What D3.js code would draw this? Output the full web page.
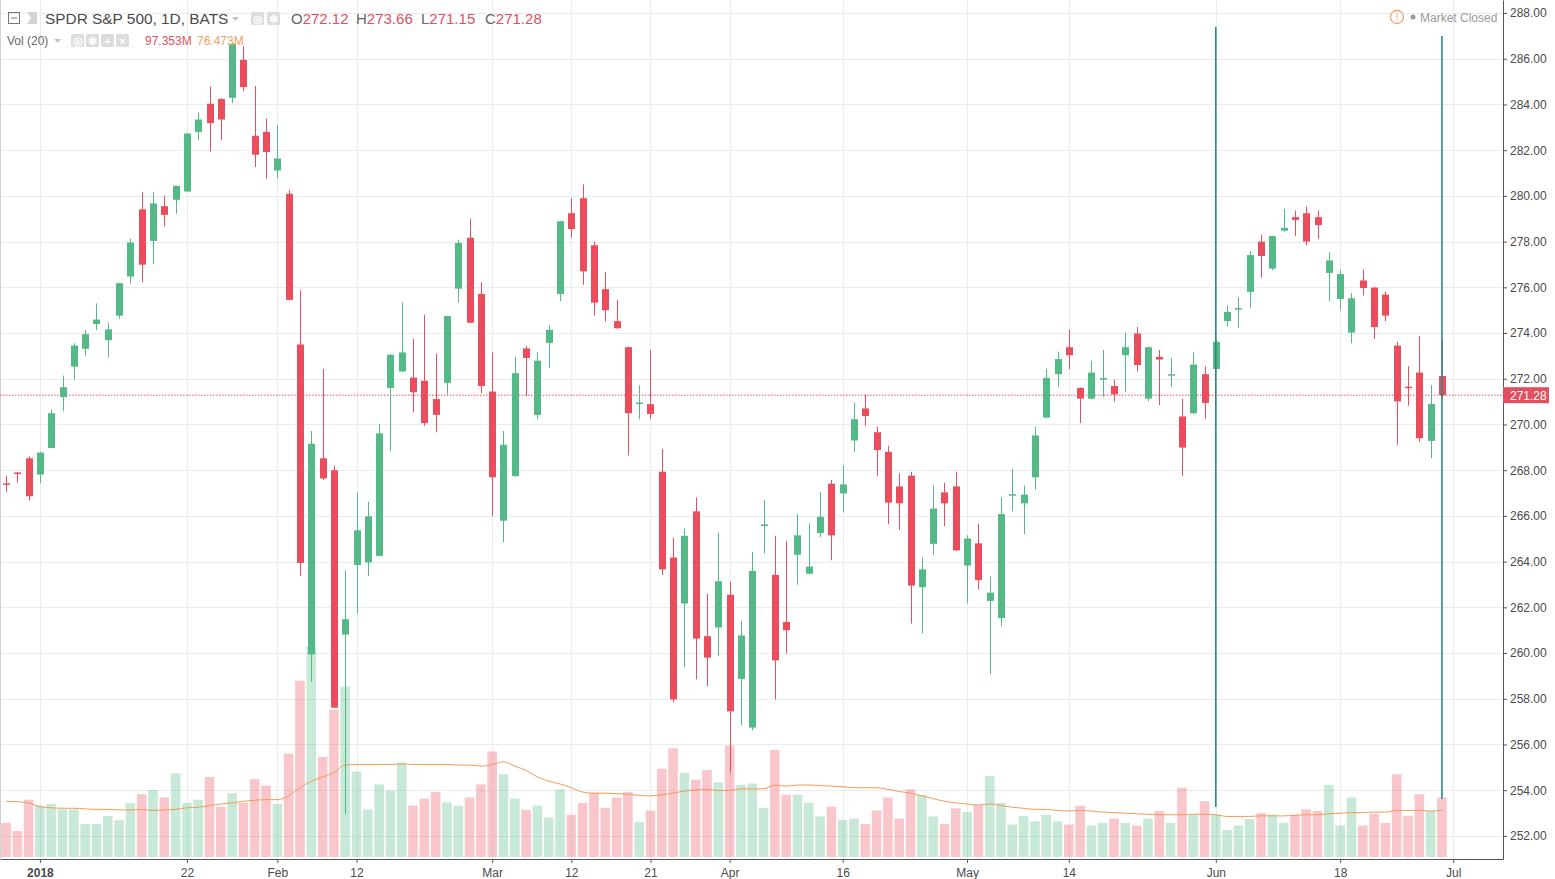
<!DOCTYPE html>
<html>
<head>
<meta charset="utf-8">
<script src="https://cdn.jsdelivr.net/npm/d3@7"></script>
<style>
  body { margin: 0; background: #fff; }
  svg { display: block; font-family: "Liberation Sans", Arial, sans-serif; }
</style>
</head>
<body>
<svg id="chart" width="1555" height="879"></svg>
<script>
// daily bars, Dec 27 2017 .. Jun 29 2018
const dates = ["2017-12-27","2017-12-28","2017-12-29",
  "2018-01-02","2018-01-03","2018-01-04","2018-01-05","2018-01-08","2018-01-09","2018-01-10","2018-01-11","2018-01-12",
  "2018-01-16","2018-01-17","2018-01-18","2018-01-19","2018-01-22","2018-01-23","2018-01-24","2018-01-25","2018-01-26",
  "2018-01-29","2018-01-30","2018-01-31","2018-02-01","2018-02-02","2018-02-05","2018-02-06","2018-02-07","2018-02-08",
  "2018-02-09","2018-02-12","2018-02-13","2018-02-14","2018-02-15","2018-02-16","2018-02-20","2018-02-21","2018-02-22",
  "2018-02-23","2018-02-26","2018-02-27","2018-02-28","2018-03-01","2018-03-02","2018-03-05","2018-03-06","2018-03-07",
  "2018-03-08","2018-03-09","2018-03-12","2018-03-13","2018-03-14","2018-03-15","2018-03-16","2018-03-19","2018-03-20",
  "2018-03-21","2018-03-22","2018-03-23","2018-03-26","2018-03-27","2018-03-28","2018-03-29","2018-04-02","2018-04-03",
  "2018-04-04","2018-04-05","2018-04-06","2018-04-09","2018-04-10","2018-04-11","2018-04-12","2018-04-13","2018-04-16",
  "2018-04-17","2018-04-18","2018-04-19","2018-04-20","2018-04-23","2018-04-24","2018-04-25","2018-04-26","2018-04-27",
  "2018-04-30","2018-05-01","2018-05-02","2018-05-03","2018-05-04","2018-05-07","2018-05-08","2018-05-09","2018-05-10",
  "2018-05-11","2018-05-14","2018-05-15","2018-05-16","2018-05-17","2018-05-18","2018-05-21","2018-05-22","2018-05-23",
  "2018-05-24","2018-05-25","2018-05-29","2018-05-30","2018-05-31","2018-06-01","2018-06-04","2018-06-05","2018-06-06",
  "2018-06-07","2018-06-08","2018-06-11","2018-06-12","2018-06-13","2018-06-14","2018-06-15","2018-06-18","2018-06-19",
  "2018-06-20","2018-06-21","2018-06-22","2018-06-25","2018-06-26","2018-06-27","2018-06-28","2018-06-29"];

const opens = [267.42,267.90,268.52,
  267.81,268.97,271.20,272.53,273.31,274.40,273.69,274.76,276.47,
  279.41,278.03,279.55,279.83,280.19,282.80,284.03,284.24,284.29,
  285.95,282.63,282.80,281.11,280.09,273.50,259.94,268.52,268.00,
  260.81,263.85,263.97,264.25,271.60,272.32,272.05,271.91,271.11,
  271.82,275.94,278.17,275.71,271.44,265.79,267.74,273.33,270.42,
  273.57,275.71,279.24,279.90,277.84,275.92,274.52,273.38,270.92,
  270.89,267.93,264.18,262.17,266.20,260.74,261.12,262.55,258.87,
  256.74,265.56,263.42,261.36,264.30,263.47,265.25,267.41,266.98,
  269.30,270.70,269.66,268.80,267.29,267.76,262.88,264.78,267.03,
  267.29,263.83,264.80,262.28,261.53,266.93,266.55,267.69,270.30,
  272.20,273.38,271.60,271.13,271.96,271.68,273.03,273.98,271.13,
  272.96,272.18,270.35,270.49,272.20,272.43,274.52,275.07,275.80,
  278.00,276.82,278.48,279.07,279.24,279.07,276.63,275.49,274.02,
  276.30,275.99,275.68,273.45,271.65,272.27,269.28,272.12];

const highs = [267.76,267.92,268.60,
  268.81,270.65,272.14,273.55,274.14,275.30,274.45,276.20,278.13,
  280.16,280.16,280.02,280.45,282.75,283.65,284.79,284.27,286.70,
  286.55,284.81,283.39,283.10,280.26,275.87,269.71,272.43,268.21,
  263.61,267.03,266.62,270.02,273.07,275.35,273.74,274.81,273.10,
  274.76,278.08,279.00,276.23,273.15,269.71,272.96,273.43,273.15,
  274.33,278.91,279.90,280.50,278.00,276.66,275.45,273.40,271.72,
  273.26,268.92,265.04,265.44,266.81,262.59,265.27,263.11,261.41,
  264.42,266.70,265.13,264.89,266.08,265.67,267.05,267.57,268.21,
  270.94,271.30,269.90,269.07,267.86,267.93,264.18,267.33,267.45,
  267.93,265.15,265.67,263.35,266.81,268.05,267.33,269.90,272.43,
  273.19,274.14,271.62,272.79,273.26,271.96,274.02,274.26,273.40,
  273.26,272.91,271.13,273.15,272.55,273.70,275.20,275.56,277.58,
  278.31,278.26,279.43,279.36,279.55,279.36,277.53,276.77,275.75,
  276.77,276.01,275.82,273.62,272.55,273.86,271.72,273.66];

const lows = [267.06,267.45,266.67,
  267.43,268.96,270.58,271.97,273.02,274.14,272.93,274.62,276.16,
  276.23,277.01,278.67,279.22,280.17,282.44,281.94,282.44,284.06,
  284.57,281.26,280.76,280.76,275.43,263.37,258.75,267.57,257.59,
  252.94,261.72,263.37,264.23,268.83,272.30,270.54,269.94,269.66,
  271.30,275.33,274.43,271.37,265.98,264.85,267.72,271.25,270.23,
  272.48,275.40,278.17,276.11,274.76,274.50,274.19,268.64,270.23,
  270.23,263.42,257.85,259.39,258.85,258.56,259.87,254.77,256.85,
  256.62,264.37,257.97,259.98,262.99,263.45,265.08,264.06,266.15,
  268.80,269.94,267.76,265.63,265.39,261.29,260.86,264.30,265.56,
  264.47,262.17,262.78,259.08,261.17,266.20,265.20,267.15,270.28,
  271.65,272.43,270.06,271.10,271.20,270.99,271.41,272.32,271.01,
  270.84,271.65,267.76,270.47,270.25,272.41,274.28,274.21,275.11,
  276.42,276.75,278.43,278.24,277.84,278.12,275.40,275.00,273.55,
  275.64,273.74,274.52,269.11,270.82,269.23,268.52,271.15];

const closes = [267.38,267.88,266.86,
  268.77,270.49,271.63,273.45,273.95,274.59,274.16,276.18,277.96,
  276.99,279.67,279.17,280.44,282.73,283.34,283.18,283.34,286.66,
  284.76,281.80,281.92,281.64,275.45,263.94,269.16,267.64,257.61,
  261.48,265.37,265.98,269.61,273.05,273.15,271.41,270.06,270.42,
  274.74,277.94,274.45,271.68,267.69,269.11,272.24,272.91,272.79,
  274.14,278.89,278.55,276.70,275.33,275.00,274.21,270.49,270.96,
  270.46,263.66,257.97,265.13,260.63,259.80,263.14,257.45,260.77,
  263.59,265.63,259.68,261.00,265.15,263.78,265.96,265.15,267.38,
  270.23,270.37,268.88,266.58,266.55,262.95,263.66,266.32,266.55,
  264.49,265.01,263.19,262.64,266.08,266.95,266.93,269.52,272.03,
  272.86,273.03,271.13,272.27,272.03,271.32,273.38,272.60,273.38,
  272.84,272.20,268.99,272.62,270.94,273.62,274.92,275.09,277.41,
  277.37,278.24,278.60,278.95,278.00,278.72,277.18,276.58,275.52,
  275.97,274.26,274.76,271.01,271.60,269.40,270.89,271.28];

// volume in millions
const volumes = [55.7,42.4,93.7,
  84.0,86.6,77.8,77.8,53.9,53.9,67.2,60.1,88.4,
  102.5,109.6,97.2,137.0,88.4,93.7,130.8,82.2,104.3,
  88.4,127.3,116.7,86.6,168.8,288.2,344.8,163.5,240.4,
  278.5,139.7,77.8,118.5,108.7,154.7,84.0,95.5,106.1,
  89.3,84.0,97.2,118.5,172.4,135.3,95.5,76.9,84.0,
  64.5,110.5,69.0,88.4,104.3,80.4,97.2,106.1,57.5,
  76.0,144.1,177.7,137.9,126.4,142.3,122.0,182.1,117.6,
  120.2,80.4,175.0,101.7,101.7,88.4,66.3,82.2,60.1,
  62.8,53.9,76.0,97.2,62.8,110.5,101.7,66.3,53.9,
  79.6,73.4,84.9,132.6,88.4,53.0,67.2,58.3,69.0,
  58.3,53.0,84.0,51.3,55.7,62.8,55.7,51.3,62.8,
  75.1,55.7,113.2,69.0,91.1,69.0,44.2,51.3,61.9,
  71.6,69.0,55.7,69.0,77.8,75.1,117.6,51.3,97.2,
  51.3,70.7,55.7,135.3,67.2,102.5,75.1,97.353];

// Vol (20) moving average
const volumeMA = [91.1,90.2,88.4,
  82.2,80.4,79.6,79.6,78.7,77.8,77.8,76.9,76.9,
  77.8,76.0,76.9,77.8,80.4,81.3,84.0,86.6,88.4,
  91.1,92.8,93.7,93.7,99.9,113.2,123.8,130.8,137.9,
  150.3,151.2,151.2,151.2,151.2,152.0,151.2,151.2,151.2,
  151.2,150.3,150.3,148.5,151.2,155.6,148.5,141.4,130.8,
  123.8,119.3,113.2,106.1,104.3,104.3,103.4,102.5,100.8,
  99.9,101.7,104.3,107.8,109.6,110.5,108.7,108.7,111.4,
  111.4,111.4,117.6,115.8,117.6,117.6,116.7,115.8,114.9,
  113.2,113.2,113.2,110.5,107.0,104.3,99.9,95.5,91.1,
  88.4,86.6,84.9,86.6,84.0,81.3,79.6,77.8,77.8,
  76.0,75.1,76.0,75.1,73.4,72.5,71.6,70.7,69.8,
  69.0,69.0,69.0,69.8,69.8,69.0,66.3,66.3,66.3,
  67.2,67.2,67.2,68.1,69.0,69.0,70.7,71.6,72.5,
  72.5,73.4,73.4,76.0,76.0,76.0,75.1,76.473];

const tickDates = ["2018-01-02","2018-01-22","2018-02-01","2018-02-12","2018-03-01","2018-03-12",
  "2018-03-21","2018-04-02","2018-04-16","2018-05-01","2018-05-14","2018-06-01","2018-06-18","2018-07-02"];
const tickLabels = ["2018","22","Feb","12","Mar","12","21","Apr","16","May","14","Jun","18","Jul"];
const priceTicks = d3.range(252, 289, 2);

// vertical line drawings on the chart
const markerDates = ["2018-06-01", "2018-06-29"];
const markerTop = [287.39, 286.99];
const markerBottom = [253.27, 253.62];

const UP = "#53b987", DOWN = "#eb4d5c", RED_TEXT = "#e0505e";
const W = 1503, H = 859;

const svg = d3.select("#chart");

function indexOfDate(d) {
  let i = dates.indexOf(d);
  return i >= 0 ? i : dates.length;   // "Jul" sits one bar past the data
}

const x = d3.scaleLinear().domain([-0.53, 132.4]).range([0, W]);
const y = d3.scaleLinear().domain([250.99, 288.57]).range([H, 0]);
const yVol = d3.scaleLinear().domain([0, 100]).range([857, 857 - 61.2]);

/* GRID */
const grid = svg.append("g");
grid.selectAll("line.h").data(priceTicks).join("line")
  .attr("x1", 0).attr("x2", W)
  .attr("y1", d => Math.round(y(d)) + 0.5).attr("y2", d => Math.round(y(d)) + 0.5)
  .attr("stroke", "#e9ebee");
grid.selectAll("line.v").data(tickDates).join("line")
  .attr("y1", 0).attr("y2", H)
  .attr("x1", d => Math.round(x(indexOfDate(d))) + 0.5).attr("x2", d => Math.round(x(indexOfDate(d))) + 0.5)
  .attr("stroke", "#e9ebee");
svg.append("line").attr("x1", 0.5).attr("x2", 0.5).attr("y1", 0).attr("y2", H).attr("stroke", "#d0d0d0");

/* VOLUME */
const bars = dates.map((d, i) => ({i: i, o: opens[i], h: highs[i], l: lows[i], c: closes[i], v: volumes[i]}));

svg.append("g").selectAll("rect").data(bars).join("rect")
  .attr("x", d => x(d.i) - 4.8)
  .attr("width", 9.6)
  .attr("y", d => yVol(d.v))
  .attr("height", d => yVol(0) - yVol(d.v))
  .attr("fill", d => d.c >= d.o ? UP : DOWN)
  .attr("fill-opacity", 0.32);

svg.append("path")
  .datum(volumeMA)
  .attr("fill", "none")
  .attr("stroke", "#f29b55")
  .attr("stroke-width", 1)
  .attr("d", d3.line().x((d, i) => x(i)).y(d => yVol(d)).curve(d3.curveMonotoneX));

/* CLOSE LINE */
const lastClose = closes[closes.length - 1];
svg.append("line")
  .attr("x1", 0).attr("x2", W)
  .attr("y1", y(lastClose)).attr("y2", y(lastClose))
  .attr("stroke", RED_TEXT).attr("stroke-width", 1).attr("stroke-dasharray", "1.5,1.5");

/* CANDLES */
const candles = svg.append("g").selectAll("g").data(bars).join("g");
candles.append("line")
  .attr("x1", d => Math.round(x(d.i)) + 0.5).attr("x2", d => Math.round(x(d.i)) + 0.5)
  .attr("y1", d => y(d.h)).attr("y2", d => y(d.l))
  .attr("stroke", d => d.c >= d.o ? UP : DOWN).attr("stroke-width", 1);
candles.append("rect")
  .attr("x", d => Math.round(x(d.i)) - 3)
  .attr("width", 7)
  .attr("y", d => y(Math.max(d.o, d.c)))
  .attr("height", d => Math.max(1.5, Math.abs(y(d.o) - y(d.c))))
  .attr("fill", d => d.c >= d.o ? UP : DOWN);

/* DRAWN VERTICAL LINES */
svg.append("g").selectAll("line").data(markerDates).join("line")
  .attr("x1", d => x(indexOfDate(d))).attr("x2", d => x(indexOfDate(d)))
  .attr("y1", (d, i) => y(markerTop[i])).attr("y2", (d, i) => y(markerBottom[i]))
  .attr("stroke", "#2a8a80").attr("stroke-width", 1.6);

/* AXES */
const xAxis = svg.append("g")
  .attr("transform", `translate(0,${H})`)
  .call(d3.axisBottom(x)
    .tickValues(tickDates.map(indexOfDate))
    .tickFormat((d, i) => tickLabels[i])
    .tickSize(4).tickSizeOuter(0));
xAxis.selectAll("text").attr("font-size", 12).attr("fill", "#4a4a4a").attr("dy", "0.95em")
  .attr("font-weight", (d, i) => i === 0 ? "bold" : "normal");

const yAxis = svg.append("g")
  .attr("transform", `translate(${W},0)`)
  .call(d3.axisRight(y)
    .tickValues(priceTicks)
    .tickFormat(d => d.toFixed(2))
    .tickSize(4).tickSizeOuter(0));
yAxis.selectAll("text").attr("font-size", 12).attr("fill", "#4a4a4a").attr("x", 7);

[xAxis, yAxis].forEach(a => {
  a.select(".domain").attr("stroke", "#555");
  a.selectAll(".tick line").attr("stroke", "#555");
  a.attr("font-family", null);
});

// last price tag
const tag = svg.append("g").attr("transform", `translate(${W},${y(lastClose)})`);
tag.append("rect").attr("x", 0).attr("y", -8).attr("width", 46).attr("height", 16).attr("fill", RED_TEXT);
tag.append("text").attr("x", 7).attr("y", 4.5).attr("font-size", 12).attr("fill", "#fff").text(lastClose.toFixed(2));

/* LEGEND / HEADER */
function iconBox(g, x0, y0, glyph) {
  g.append("rect").attr("x", x0).attr("y", y0).attr("width", 13).attr("height", 13)
    .attr("rx", 1.5).attr("fill", "#dcdcdc");
  g.append("text").attr("x", x0 + 6.5).attr("y", y0 + 10.5).attr("text-anchor", "middle")
    .attr("font-size", 11).attr("font-weight", "bold").attr("fill", "#fff").text(glyph);
}

const head = svg.append("g");
head.append("rect").attr("x", 8.5).attr("y", 12.5).attr("width", 11).attr("height", 11)
  .attr("fill", "none").attr("stroke", "#777");
head.append("line").attr("x1", 11).attr("x2", 17).attr("y1", 18).attr("y2", 18).attr("stroke", "#777");
head.append("path").attr("d", "M27,12 L37,12 L37,24 L27,24 L31,18 Z").attr("fill", "#d4d4d4");
head.append("text").attr("x", 45).attr("y", 24).attr("font-size", 15.4).attr("fill", "#4a4a4a")
  .text("SPDR S&P 500, 1D, BATS");
head.append("path").attr("d", "M232,17 L239,17 L235.5,21 Z").attr("fill", "#c4c4c4");
iconBox(head, 251, 12, "◎");
iconBox(head, 267, 12, "✻");

const ohlcLabels = ["O", "H", "L", "C"];
const ohlcValues = [opens, highs, lows, closes].map(a => a[a.length - 1].toFixed(2));
const ohlcX = [291, 356, 421, 485];
ohlcLabels.forEach((lab, i) => {
  const t = head.append("text").attr("x", ohlcX[i]).attr("y", 24).attr("font-size", 15);
  t.append("tspan").attr("fill", "#666").text(lab);
  t.append("tspan").attr("fill", RED_TEXT).text(ohlcValues[i]);
});

head.append("text").attr("x", 7).attr("y", 45).attr("font-size", 12).attr("fill", "#666").text("Vol (20)");
head.append("path").attr("d", "M54,39 L61,39 L57.5,43 Z").attr("fill", "#c4c4c4");
iconBox(head, 71, 34, "◎");
iconBox(head, 86, 34, "✻");
iconBox(head, 101, 34, "+");
iconBox(head, 116, 34, "×");
head.append("text").attr("x", 145).attr("y", 45).attr("font-size", 12).attr("fill", RED_TEXT)
  .text(volumes[volumes.length - 1].toFixed(3) + "M");
head.append("text").attr("x", 197).attr("y", 45).attr("font-size", 12).attr("fill", "#f0a060")
  .text(volumeMA[volumeMA.length - 1].toFixed(3) + "M");

// market status
const status = svg.append("g");
status.append("circle").attr("cx", 1397).attr("cy", 17).attr("r", 6.5)
  .attr("fill", "#fff").attr("stroke", "#f2a46c").attr("stroke-width", 1.3);
status.append("text").attr("x", 1397).attr("y", 21).attr("text-anchor", "middle")
  .attr("font-size", 10).attr("fill", "#f2a46c").text("!");
status.append("circle").attr("cx", 1413).attr("cy", 17).attr("r", 2.5).attr("fill", "#999");
status.append("text").attr("x", 1420).attr("y", 21.5).attr("font-size", 12).attr("fill", "#999")
  .text("Market Closed");
</script>
</body>
</html>
